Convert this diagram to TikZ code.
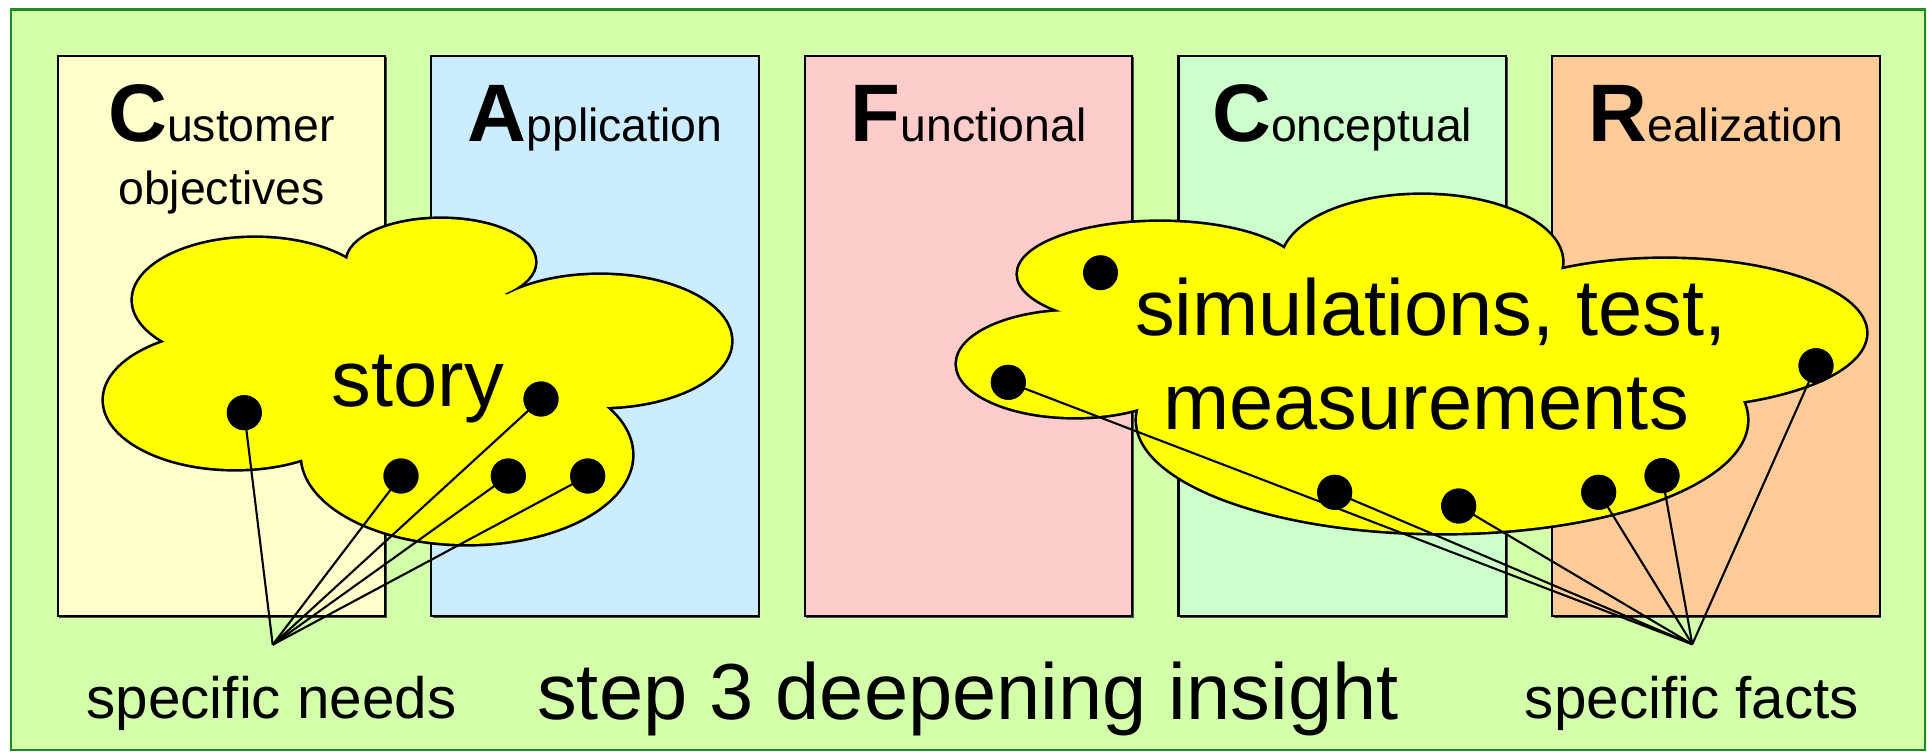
\documentclass[tikz,border=0pt]{standalone}
\usepackage{fontspec}
\setmainfont{Liberation Sans}
\usetikzlibrary{shadows}
\definecolor{outerfill}{RGB}{212,255,170}
\definecolor{outerline}{RGB}{30,140,30}
\definecolor{custfill}{RGB}{255,255,204}
\definecolor{appfill}{RGB}{204,236,255}
\definecolor{funcfill}{RGB}{255,204,204}
\definecolor{concfill}{RGB}{204,255,204}
\definecolor{realfill}{RGB}{255,204,153}
\definecolor{cloudfill}{RGB}{255,255,0}
\newcommand{\hdrtext}[2]{{\fontsize{23.2pt}{26pt}\selectfont\bfseries #1}{\fontsize{13.2pt}{15pt}\selectfont #2}}
\begin{document}
\begin{tikzpicture}[x=0.01cm,y=-0.01cm,
  colbox/.style={draw=black, line width=0.6pt, minimum width=3.273cm, minimum height=5.603cm,
    inner sep=0pt, outer sep=0pt,
    drop shadow={shadow xshift=0.45pt, shadow yshift=-0.45pt, fill=black!70, opacity=1}},
  blackdot/.style={circle, fill=black, draw=none, inner sep=0pt, minimum size=0.35cm},
  connector/.style={draw=black, line width=0.6pt},
  lobe/.style={fill=cloudfill, draw=black, line width=1.5pt},
  lobefill/.style={fill=cloudfill, draw=none},
  hdrnode/.style={inner sep=0pt, anchor=base},
  subtxt/.style={inner sep=0pt, anchor=base, font=\fontsize{13.2pt}{15pt}\selectfont},
  bigtxt/.style={inner sep=0pt, anchor=base, font=\fontsize{22.6pt}{26pt}\selectfont},
  midtxt/.style={inner sep=0pt, anchor=base, font=\fontsize{16.6pt}{19pt}\selectfont}]
\useasboundingbox (0,0) rectangle (1927,752);
% outer frame
\draw[outerline, fill=outerfill, line width=0.7pt] (11,9.5) rectangle (1925,750);
% boxes
\node[colbox, fill=custfill] (bcust) at (221.4,335.9) {};
\node[colbox, fill=appfill]  (bapp)  at (595.0,335.9) {};
\node[colbox, fill=funcfill] (bfunc) at (968.6,335.9) {};
\node[colbox, fill=concfill] (bconc) at (1342.2,335.9) {};
\node[colbox, fill=realfill] (breal) at (1715.8,335.9) {};
% headers
\node[hdrnode] (hcust) at (221.4,142) {\hdrtext{C}{ustomer}};
\node[subtxt]  (hobj)  at (221.4,205) {objectives};
\node[hdrnode] (happ)  at (595.0,142) {\hdrtext{A}{pplication}};
\node[hdrnode] (hfunc) at (968.6,142) {\hdrtext{F}{unctional}};
\node[hdrnode] (hconc) at (1342.2,142) {\hdrtext{C}{onceptual}};
\node[hdrnode] (hreal) at (1715.8,142) {\hdrtext{R}{ealization}};
% left cloud
\path[lobe] (255,300) ellipse [x radius=122, y radius=62];
\path[lobe] (441,262) ellipse [x radius=94, y radius=43];
\path[lobe] (600,341) ellipse [x radius=131, y radius=66];
\path[lobe] (467,455) ellipse [x radius=165, y radius=89];
\path[lobe] (235,400) ellipse [x radius=131, y radius=69];
\path[lobefill] (255,300) ellipse [x radius=122, y radius=62];
\path[lobefill] (441,262) ellipse [x radius=94, y radius=43];
\path[lobefill] (600,341) ellipse [x radius=131, y radius=66];
\path[lobefill] (467,455) ellipse [x radius=165, y radius=89];
\path[lobefill] (235,400) ellipse [x radius=131, y radius=69];
\path[lobefill] (255,300) -- (441,262) -- (600,341) -- (467,455) -- (235,400) -- cycle;
% right cloud
\path[lobe] (1160,274) ellipse [x radius=142, y radius=52];
\path[lobe] (1422,262) ellipse [x radius=140, y radius=67];
\path[lobe] (1665,333) ellipse [x radius=201, y radius=74];
\path[lobe] (1442,420) ellipse [x radius=305, y radius=113];
\path[lobe] (1075,364) ellipse [x radius=118, y radius=53];
\path[lobefill] (1160,274) ellipse [x radius=142, y radius=52];
\path[lobefill] (1422,262) ellipse [x radius=140, y radius=67];
\path[lobefill] (1665,333) ellipse [x radius=201, y radius=74];
\path[lobefill] (1442,420) ellipse [x radius=305, y radius=113];
\path[lobefill] (1075,364) ellipse [x radius=118, y radius=53];
\path[lobefill] (1160,274) -- (1422,262) -- (1665,333) -- (1442,420) -- (1075,364) -- cycle;
% cloud texts
\node[bigtxt] (story) at (418,406.7) {story};
\node[bigtxt] (sim1) at (1431,336) {simulations, test,};
\node[bigtxt] (sim2) at (1426,430) {measurements};
% bottom texts
\node[midtxt] (needs) at (271.5,718.7) {specific needs};
\node[bigtxt] (step) at (968,719) {step 3 deepening insight};
\node[midtxt] (facts) at (1692,718.7) {specific facts};
% convergence points
\coordinate (cneeds) at (272.7,644.7);
\coordinate (cfacts) at (1692.3,644.3);
% dots left
\node[blackdot] (l1) at (244.3,412.7) {};
\node[blackdot] (l2) at (541,399) {};
\node[blackdot] (l3) at (401,476) {};
\node[blackdot] (l4) at (508.3,476) {};
\node[blackdot] (l5) at (587.7,476) {};
% dots right
\node[blackdot] (r0) at (1100.5,272.7) {};
\node[blackdot] (r1) at (1008.3,382.3) {};
\node[blackdot] (r2) at (1334.7,492.3) {};
\node[blackdot] (r3) at (1458.7,506) {};
\node[blackdot] (r4) at (1598.7,492.3) {};
\node[blackdot] (r5) at (1662,475.7) {};
\node[blackdot] (r6) at (1816,365.7) {};
% connectors
\foreach \d in {l1,l2,l3,l4,l5} \draw[connector] (\d.center) -- (cneeds);
\foreach \d in {r1,r2,r3,r4,r5,r6} \draw[connector] (\d.center) -- (cfacts);
% redraw dots on top
\foreach \d in {l1,l2,l3,l4,l5,r1,r2,r3,r4,r5,r6} \fill[black] (\d.center) circle [radius=17.5];
\end{tikzpicture}
\end{document}
